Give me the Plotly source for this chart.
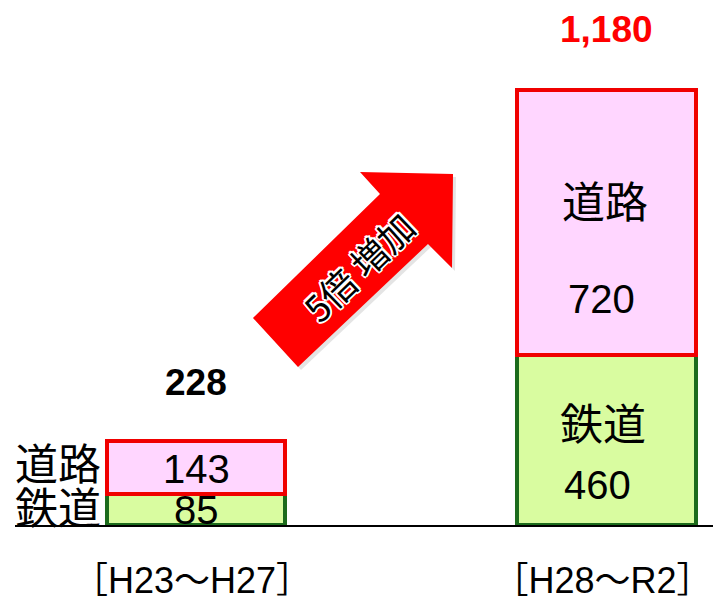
import plotly.graph_objects as go

# Period categories and counts per mode
periods = ["［H23～H27］", "［H28～R2］"]
rail = [85, 460]
road = [143, 720]
totals = [r + d for r, d in zip(rail, road)]

W, H = 713, 603
ML, MB = 15, 78
Y_TOP = 1424
BAR_W = 0.435

JP_FONT = "Liberation Sans, Arial, Noto Sans CJK JP, sans-serif"

fig = go.Figure()
fig.add_trace(go.Bar(
    x=periods, y=rail, width=BAR_W, name="鉄道",
    marker=dict(color="#d9fca0", line=dict(color="#1c6b1c", width=4)),
    hoverinfo="skip",
))
fig.add_trace(go.Bar(
    x=periods, y=road, width=BAR_W, name="道路",
    marker=dict(color="#ffd6ff", line=dict(color="#f00000", width=4)),
    hoverinfo="skip",
))

ann = []
# totals above each bar
ann.append(dict(x=periods[0], y=totals[0], text=f"{totals[0]:,}", showarrow=False,
                yshift=58, font=dict(size=37, color="black", family=JP_FONT, weight="bold")))
ann.append(dict(x=periods[1], y=totals[1], text=f"{totals[1]:,}", showarrow=False,
                yshift=60, font=dict(size=37, color="#ff0000", family=JP_FONT, weight="bold")))

num = dict(size=40, color="black", family=JP_FONT)
kan = dict(size=43, color="black", family=JP_FONT)
# first period: values inside, mode names to the left
ann.append(dict(x=periods[0], y=rail[0] / 2, text=str(rail[0]), showarrow=False,
                yshift=-1, font=num))
ann.append(dict(x=periods[0], y=rail[0] + road[0] / 2, text=str(road[0]), showarrow=False,
                yshift=-2, font=num))
ann.append(dict(x=-BAR_W / 2, y=rail[0] / 2, text="鉄道", showarrow=False, xref="x",
                xanchor="right", xshift=-4, yshift=0, font=kan))
ann.append(dict(x=-BAR_W / 2, y=rail[0] + road[0] / 2, text="道路", showarrow=False, xref="x",
                xanchor="right", xshift=-4, yshift=2, font=kan))
# second period: name and value stacked inside each segment
ann.append(dict(x=periods[1], y=rail[1] / 2, text="鉄道", showarrow=False,
                xshift=-4, yshift=15, font=kan))
ann.append(dict(x=periods[1], y=rail[1] / 2, text=str(rail[1]), showarrow=False,
                xshift=-9, yshift=-45, font=num))
ann.append(dict(x=periods[1], y=rail[1] + road[1] / 2, text="道路", showarrow=False,
                xshift=-2, yshift=20, font=kan))
ann.append(dict(x=periods[1], y=rail[1] + road[1] / 2, text=str(road[1]), showarrow=False,
                xshift=-5, yshift=-76, font=num))

# growth arrow drawn in pixel space, converted to paper coordinates
def px(xp, yp):
    return (xp - ML) / (W - ML), (H - MB - yp) / (H - MB)

arrow_px = [(253, 318), (380, 194), (360, 172), (453, 174), (452, 268), (428, 244), (298, 367)]
pts = [px(a, b) for a, b in arrow_px]
path = "M " + " L ".join(f"{a:.5f},{b:.5f}" for a, b in pts) + " Z"
shadow_pts = [px(a + 3, b + 3) for a, b in arrow_px]
shadow_path = "M " + " L ".join(f"{a:.5f},{b:.5f}" for a, b in shadow_pts) + " Z"

shapes = [
    dict(type="path", xref="paper", yref="paper", path=shadow_path,
         fillcolor="rgba(120,120,120,0.2)", line=dict(width=0), layer="above"),
    dict(type="path", xref="paper", yref="paper", path=path,
         fillcolor="#ff0000", line=dict(width=0), layer="above"),
]

# arrow caption with a white halo built from offset copies
cx, cy = px(358, 266)
label = "5倍 増加"
lab_font = dict(size=36, family="Noto Sans CJK JP, sans-serif")
for dx, dy in [(-2, 0), (2, 0), (0, -2), (0, 2), (-1.5, -1.5), (1.5, 1.5), (-1.5, 1.5), (1.5, -1.5)]:
    ann.append(dict(x=cx, y=cy, xref="paper", yref="paper", text=label, showarrow=False,
                    textangle=-44, xshift=dx, yshift=dy, font=dict(color="white", **lab_font)))
ann.append(dict(x=cx, y=cy, xref="paper", yref="paper", text=label, showarrow=False,
                textangle=-44, font=dict(color="black", **lab_font)))

fig.update_layout(
    barmode="stack",
    width=W, height=H,
    margin=dict(l=ML, r=0, t=0, b=MB),
    paper_bgcolor="white", plot_bgcolor="white",
    showlegend=False,
    annotations=ann,
    shapes=shapes,
    xaxis=dict(
        type="category", automargin=False,
        range=[-(196 - ML) / 410.5, (W - 196) / 410.5],
        showline=True, linecolor="black", linewidth=2,
        showgrid=False, zeroline=False,
        ticks="outside", ticklen=23, tickcolor="rgba(0,0,0,0)",
        ticklabelshift=-4,
        tickfont=dict(size=36, color="black", family=JP_FONT),
    ),
    yaxis=dict(range=[0, Y_TOP], visible=False, showgrid=False, zeroline=False,
               automargin=False),
)

fig.write_html("out.html")
